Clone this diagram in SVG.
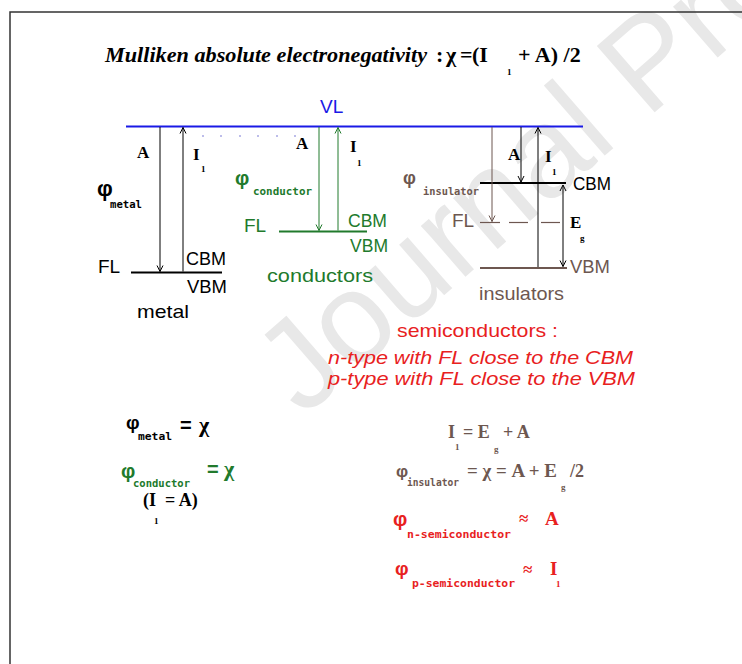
<svg xmlns="http://www.w3.org/2000/svg" width="742" height="664" viewBox="0 0 742 664">
<style>
.lbl{font-family:"Liberation Sans",Arial,sans-serif;font-size:19px}
.ser{font-family:"Liberation Serif","Times New Roman",serif;font-weight:bold}
.sub{font-family:"DejaVu Sans Mono","Liberation Mono",monospace;font-weight:bold;font-size:10.5px}
.tiny{font-family:"Liberation Serif","Times New Roman",serif;font-weight:bold;font-size:9px}
.phi{font-family:"Liberation Sans",Arial,sans-serif;font-weight:bold}
.k{fill:#000}.g{fill:#217a2c}.b{fill:#6d5750}.r{fill:#e8211e}.bl{fill:#1a1ae6}
.lk{stroke:#000;fill:none}.lg{stroke:#217a2c;fill:none}.lb{stroke:#6d5750;fill:none}
.arr{stroke-width:1}
.lev{stroke-width:2}
</style>
<defs>
<marker id="ah-k" viewBox="-8 -5 10 10" markerWidth="10" markerHeight="10" refX="0" refY="0" orient="auto-start-reverse" markerUnits="userSpaceOnUse"><path d="M-6,-3 L0,0 L-6,3" fill="none" stroke="#000" stroke-width="1"/></marker>
<marker id="ah-g" viewBox="-8 -5 10 10" markerWidth="10" markerHeight="10" refX="0" refY="0" orient="auto" markerUnits="userSpaceOnUse"><path d="M-6,-3 L0,0 L-6,3" fill="none" stroke="#217a2c" stroke-width="1"/></marker>
<marker id="ah-b" viewBox="-8 -5 10 10" markerWidth="10" markerHeight="10" refX="0" refY="0" orient="auto" markerUnits="userSpaceOnUse"><path d="M-6,-3 L0,0 L-6,3" fill="none" stroke="#6d5750" stroke-width="1"/></marker>
</defs>
<rect width="742" height="664" fill="#fff"/>
<text x="303" y="418" transform="rotate(-41 303 418)" font-family="Liberation Sans,Arial,sans-serif" font-size="128" fill="#e8e8e8">Journal Pre-proof</text>
<path d="M10,664 V12 H742" fill="none" stroke="#333" stroke-width="1.5"/>

<g id="title">
<text x="105" y="62" class="ser" font-style="italic" font-size="22" textLength="322" lengthAdjust="spacingAndGlyphs">Mulliken absolute electronegativity</text>
<text y="62" class="ser" font-size="22"><tspan x="436">:</tspan><tspan x="446">χ</tspan><tspan x="460">=</tspan><tspan x="472">(I</tspan><tspan x="518">+ A) /2</tspan></text>
<text x="507" y="75" class="tiny">1</text>
</g>

<g id="vacuum-level">
<text x="320" y="113" class="lbl bl" font-size="20">VL</text>
<line x1="126" y1="126.5" x2="583" y2="126.5" stroke="#1a1ae6" stroke-width="2"/>
<g fill="#6a6ad0"><circle cx="203" cy="136" r="0.8"/><circle cx="221" cy="136" r="0.8"/><circle cx="240" cy="136" r="0.8"/><circle cx="258" cy="136" r="0.8"/><circle cx="277" cy="136" r="0.8"/><circle cx="295" cy="136" r="0.8"/></g>
</g>

<g id="metal">
<line x1="131" y1="272.5" x2="222" y2="272.5" class="lk lev"/>
<text x="137" y="158" class="ser k" font-size="17">A</text>
<text x="193" y="160" class="ser k" font-size="17">I</text>
<text x="201" y="172" class="tiny k">1</text>
<text x="97" y="196" class="phi k" font-size="22">φ</text>
<text x="110" y="208" class="sub k" textLength="32" lengthAdjust="spacingAndGlyphs">metal</text>
<text x="98" y="273" class="lbl k">FL</text>
<text x="186" y="265" class="lbl k" textLength="40" lengthAdjust="spacingAndGlyphs">CBM</text>
<text x="187" y="293" class="lbl k" textLength="40" lengthAdjust="spacingAndGlyphs">VBM</text>
<text x="137" y="318" class="lbl k" textLength="52" lengthAdjust="spacingAndGlyphs">metal</text>
</g>

<g id="conductor">
<line x1="279" y1="231.5" x2="367" y2="231.5" class="lg lev"/>
<text x="296" y="149" class="ser k" font-size="17">A</text>
<text x="350" y="152" class="ser k" font-size="17">I</text>
<text x="357" y="166" class="tiny k">1</text>
<text x="235" y="185" class="phi g" font-size="20">φ</text>
<text x="253" y="195" class="sub g" textLength="59" lengthAdjust="spacingAndGlyphs">conductor</text>
<text x="244" y="232" class="lbl g">FL</text>
<text x="348" y="227" class="lbl g" textLength="39" lengthAdjust="spacingAndGlyphs">CBM</text>
<text x="350" y="252" class="lbl g" textLength="38" lengthAdjust="spacingAndGlyphs">VBM</text>
<text x="267" y="282" class="lbl g" textLength="106" lengthAdjust="spacingAndGlyphs">conductors</text>
</g>

<g id="insulator">
<line x1="480" y1="183" x2="566" y2="183" class="lk lev"/>
<line x1="480" y1="268" x2="567" y2="268" class="lb lev"/>
<g class="lb" stroke-width="1.2"><line x1="480" y1="222.5" x2="500" y2="222.5"/><line x1="509" y1="222.5" x2="528" y2="222.5"/><line x1="541" y1="222.5" x2="560" y2="222.5"/></g>
<text x="508" y="160" class="ser k" font-size="17">A</text>
<text x="545" y="162" class="ser k" font-size="17">I</text>
<text x="552" y="175" class="tiny k">1</text>
<text x="403" y="184" class="phi b" font-size="18">φ</text>
<text x="423" y="195" class="sub b" textLength="56" lengthAdjust="spacingAndGlyphs">insulator</text>
<text x="452" y="227" class="lbl b" font-size="18">FL</text>
<text x="573" y="190" class="lbl k" textLength="38" lengthAdjust="spacingAndGlyphs">CBM</text>
<text x="570" y="228" class="ser k" font-size="17">E</text>
<text x="580" y="241" class="tiny k">g</text>
<text x="570" y="273" class="lbl b" textLength="40" lengthAdjust="spacingAndGlyphs">VBM</text>
<text x="479" y="300" class="lbl b" textLength="85" lengthAdjust="spacingAndGlyphs">insulators</text>
</g>

<g id="connectors">
<line x1="160" y1="127" x2="160" y2="271.5" class="lk arr" marker-end="url(#ah-k)"/>
<line x1="183" y1="271.5" x2="183" y2="127.5" class="lk arr" marker-end="url(#ah-k)"/>
<line x1="319" y1="127" x2="319" y2="230.5" class="lg arr" marker-end="url(#ah-g)"/>
<line x1="338" y1="230.5" x2="338" y2="127.5" class="lg arr" marker-end="url(#ah-g)"/>
<line x1="492" y1="127" x2="492" y2="221.5" class="lb arr" marker-end="url(#ah-b)"/>
<line x1="521" y1="127" x2="521" y2="182" class="lk arr" marker-end="url(#ah-k)"/>
<line x1="538" y1="267" x2="538" y2="127.5" class="lk arr" marker-end="url(#ah-k)"/>
<line x1="563" y1="185" x2="563" y2="266.5" class="lk arr" marker-start="url(#ah-k)" marker-end="url(#ah-k)"/>
</g>

<g id="semiconductors">
<text x="397" y="337" class="lbl r" textLength="161" lengthAdjust="spacingAndGlyphs">semiconductors :</text>
<text x="328" y="364" class="lbl r" font-style="italic" textLength="305" lengthAdjust="spacingAndGlyphs">n-type with FL close to the CBM</text>
<text x="328" y="385" class="lbl r" font-style="italic" textLength="307" lengthAdjust="spacingAndGlyphs">p-type with FL close to the VBM</text>
</g>

<g id="formulas-left">
<text x="126" y="429" class="phi k" font-size="19">φ</text>
<text x="138" y="440" class="sub k" textLength="34" lengthAdjust="spacingAndGlyphs">metal</text>
<text x="180" y="432" class="phi k" font-size="20">=</text>
<text x="199" y="432" class="ser k" font-size="22">χ</text>
<text x="121" y="478" class="phi g" font-size="20">φ</text>
<text x="133" y="487" class="sub g" textLength="57" lengthAdjust="spacingAndGlyphs">conductor</text>
<text x="207" y="476" class="phi g" font-size="20">=</text>
<text x="224" y="476" class="ser g" font-size="22">χ</text>
<text x="143" y="506" class="ser k" font-size="18">(I</text>
<text x="154" y="524" class="tiny k">1</text>
<text x="165" y="506" class="ser k" font-size="18">= A)</text>
</g>

<g id="formulas-right">
<text x="448" y="438" class="ser b" font-size="18">I</text>
<text x="455" y="450" class="tiny b">1</text>
<text x="463" y="438" class="ser b" font-size="18">= E</text>
<text x="494" y="452" class="tiny b">g</text>
<text x="503" y="438" class="ser b" font-size="18">+ A</text>
<text x="396" y="477" class="phi b" font-size="17">φ</text>
<text x="407" y="486" class="sub b" textLength="52" lengthAdjust="spacingAndGlyphs">insulator</text>
<text x="467" y="477" class="ser b" font-size="18" textLength="90" lengthAdjust="spacingAndGlyphs">= χ = A + E</text>
<text x="561" y="490" class="tiny b">g</text>
<text x="570" y="477" class="ser b" font-size="18">/2</text>
<text x="393" y="526" class="phi r" font-size="20">φ</text>
<text x="407" y="538" class="sub r" textLength="104" lengthAdjust="spacingAndGlyphs">n-semiconductor</text>
<text x="519" y="524" class="ser r" font-size="17">≈</text>
<text x="545" y="525" class="ser r" font-size="19">A</text>
<text x="395" y="575" class="phi r" font-size="19">φ</text>
<text x="412" y="587" class="sub r" textLength="103" lengthAdjust="spacingAndGlyphs">p-semiconductor</text>
<text x="523" y="575" class="ser r" font-size="17">≈</text>
<text x="550" y="575" class="ser r" font-size="19">I</text>
<text x="556" y="587" class="tiny r">1</text>
</g>
</svg>
